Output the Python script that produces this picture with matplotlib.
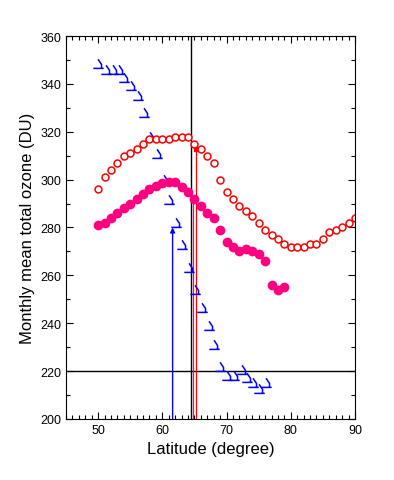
import matplotlib
matplotlib.use('Agg')
import matplotlib.pyplot as plt
from matplotlib.path import Path
from matplotlib.ticker import MultipleLocator

plt.rcParams['font.family'] = ['Liberation Sans', 'DejaVu Sans']

# open red circles
lat_open = list(range(50, 91))
oz_open = [296, 301, 304, 307, 310, 311, 313, 315, 317, 317, 317, 317, 318, 318, 318,
           315, 313, 310, 307, 300, 295, 292, 289, 287, 285, 282, 279, 277, 275, 273,
           272, 272, 272, 273, 273, 275, 278, 279, 280, 282, 284]

# filled pink circles
lat_fill = list(range(50, 80))
oz_fill = [281, 282, 284, 286, 288, 290, 292, 294, 296, 297.5, 298.5, 299, 299, 297, 295,
           292, 289, 286, 284, 279, 274, 272, 270, 271, 270, 269, 266, 256, 254, 255]

# blue markers
lat_blue = [50, 51.3, 52.3, 53.2, 54.1, 55.1, 56.2, 57.1, 58.1, 59.2, 60.2, 61.1, 62.2, 63.1,
            64.1, 65.1, 66.2, 67.2, 68.1, 69.0, 70.1, 71.1, 72.4, 73.2, 74.1, 75.1, 76.2]
oz_blue = [348.5, 346, 346, 346, 342.5, 339, 335, 328, 318, 310.5, 300, 291.5, 282, 272.5,
           263, 254, 246.5, 239, 231, 221.5, 218, 218, 220.5, 217, 215, 212.5, 215]

# reference lines
lat_black = 64.4
oz_hline = 220
lat_blue_arrow, oz_blue_arrow = 61.6, 280
lat_pink_line, oz_pink_line = 64.7, 292.5
lat_red_line, oz_red_line = 65.2, 312.7

# marker shape: diagonal stroke plus base line
barb = Path([(-0.6, -0.45), (0.6, -0.45), (-0.05, 0.6), (0.35, 0.0), (0.35, -0.45)],
            [Path.MOVETO, Path.LINETO, Path.MOVETO, Path.LINETO, Path.LINETO])

fig = plt.figure(figsize=(3.94, 4.81), dpi=100)
ax = fig.add_axes([0.1675, 0.127, 0.7335, 0.796])

ax.axvline(lat_black, color='black', lw=1)
ax.axhline(oz_hline, color='black', lw=1)

ax.plot([lat_pink_line, lat_pink_line], [200, oz_pink_line], color='#FF0080', lw=0.9)
ax.plot([lat_red_line, lat_red_line], [200, oz_red_line], color='red', lw=0.9)
ax.plot(lat_red_line, oz_red_line, 's', color='red', ms=2.5)
ax.annotate('', xy=(lat_blue_arrow, oz_blue_arrow), xytext=(lat_blue_arrow, 200),
            arrowprops=dict(arrowstyle='-|>', color='blue', lw=1.0,
                            mutation_scale=7, shrinkA=0, shrinkB=0))

ax.plot(lat_blue, oz_blue, linestyle='none', marker=barb, ms=7.5, mew=1.1,
        mec='blue', mfc='none')
ax.plot(lat_open, oz_open, 'o', ms=5, mfc='white', mec='red', mew=1.1)
ax.plot(lat_fill, oz_fill, 'o', ms=6, mfc='#FF0080', mec='#FF0080')

ax.set_xlim(45, 90)
ax.set_ylim(200, 360)
ax.xaxis.set_major_locator(MultipleLocator(10))
ax.xaxis.set_minor_locator(MultipleLocator(1))
ax.yaxis.set_major_locator(MultipleLocator(20))
ax.yaxis.set_minor_locator(MultipleLocator(10))
ax.tick_params(which='both', direction='in', top=True, right=True, labelsize=9)
ax.tick_params(which='major', length=5, width=0.8)
ax.tick_params(which='minor', length=3, width=0.8)
ax.set_xticks([50, 60, 70, 80, 90])

ax.set_xlabel('Latitude (degree)', fontsize=12)
ax.set_ylabel('Monthly mean total ozone (DU)', fontsize=12)

fig.savefig('out.png', dpi=100)
